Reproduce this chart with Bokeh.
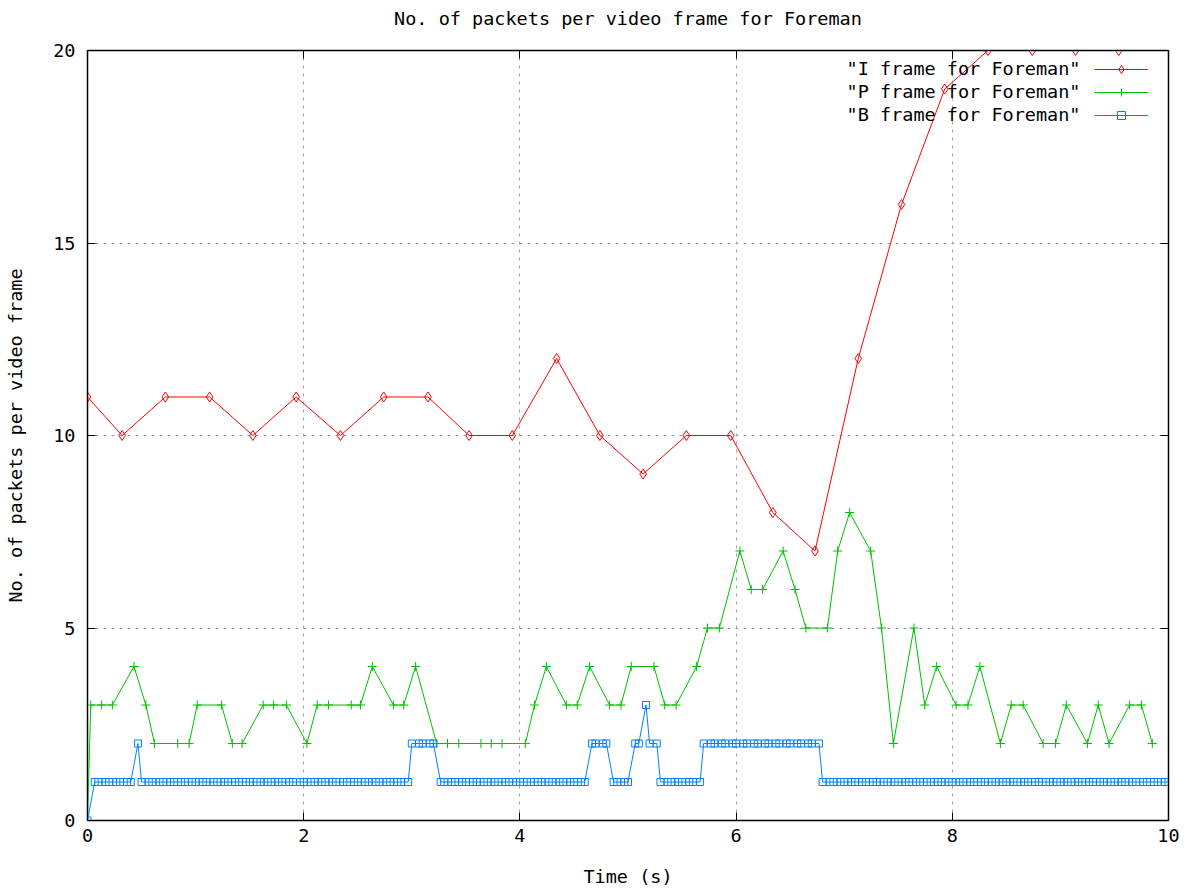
from bokeh.plotting import figure
from bokeh.models import Range1d, FixedTicker, LinearAxis, Legend, LegendItem, Label
from bokeh.embed import file_html
from bokeh.resources import INLINE

# ---------------- data ----------------
i_time = [0.0, 0.32, 0.72, 1.13, 1.53, 1.93, 2.34, 2.74, 3.15, 3.53, 3.93, 4.34,
          4.74, 5.14, 5.54, 5.95, 6.34, 6.73, 7.13, 7.53, 7.93, 8.33, 8.74, 9.14, 9.54]
i_val = [11, 10, 11, 11, 10, 11, 10, 11, 11, 10, 10, 12,
         10, 9, 10, 10, 8, 7, 12, 16, 19, 20, 20, 20, 20]

p_time = [0.0, 0.03, 0.13, 0.23, 0.43, 0.54, 0.62, 0.835, 0.94, 1.015, 1.24, 1.34,
          1.43, 1.625, 1.72, 1.84, 2.03, 2.125, 2.23, 2.44, 2.525, 2.635, 2.83, 2.925,
          3.035, 3.23, 3.33, 3.435, 3.64, 3.735, 3.835, 4.05, 4.135, 4.245, 4.43, 4.53,
          4.645, 4.83, 4.935, 5.03, 5.24, 5.34, 5.445, 5.635, 5.735, 5.845, 6.035, 6.14,
          6.245, 6.435, 6.545, 6.645, 6.845, 6.94, 7.05, 7.245, 7.345, 7.455, 7.645, 7.745,
          7.855, 8.035, 8.145, 8.255, 8.445, 8.545, 8.655, 8.84, 8.955, 9.055, 9.25, 9.35,
          9.45, 9.64, 9.75, 9.85]
p_val = [0, 3, 3, 3, 4, 3, 2, 2, 2, 3, 3, 2,
         2, 3, 3, 3, 2, 3, 3, 3, 3, 4, 3, 3,
         4, 2, 2, 2, 2, 2, 2, 2, 3, 4, 3, 3,
         4, 3, 3, 4, 4, 3, 3, 4, 5, 5, 7, 6,
         6, 7, 6, 5, 5, 7, 8, 7, 5, 2, 5, 3,
         4, 3, 3, 4, 2, 3, 3, 2, 2, 3, 2, 3,
         2, 3, 3, 2]

# B frames: one value per B-frame slot of the 30 fps timeline (frames not used by I/P)
b_frame = [k for k in range(301) if k % 3 != 1]
b_time = [k / 30.0 for k in b_frame]
b_val = [
    0,
    1, 1, 1, 1, 1, 1, 1, 1,
    2,
    1, 1, 1, 1, 1, 1, 1, 1, 1, 1,
    1, 1, 1, 1, 1, 1, 1, 1, 1, 1,
    1, 1, 1, 1, 1, 1, 1, 1, 1, 1,
    1, 1, 1, 1, 1, 1, 1, 1, 1, 1,
    1, 1, 1, 1, 1, 1, 1, 1, 1, 1,
    2, 2, 2, 2, 2,
    1, 1, 1, 1, 1, 1, 1, 1, 1, 1,
    1, 1, 1, 1, 1, 1, 1, 1, 1, 1,
    1, 1, 1, 1, 1, 1, 1, 1,
    2, 2, 2, 2,
    1, 1, 1, 1,
    2, 2,
    3,
    2, 2,
    1, 1, 1, 1, 1, 1, 1, 1,
    2, 2, 2, 2, 2, 2, 2, 2, 2, 2,
    2, 2, 2, 2, 2, 2, 2, 2, 2, 2,
    2, 2,
    1, 1, 1, 1, 1, 1, 1, 1, 1, 1,
    1, 1, 1, 1, 1, 1, 1, 1, 1, 1,
    1, 1, 1, 1, 1, 1, 1, 1, 1, 1,
    1, 1, 1, 1, 1, 1, 1, 1, 1, 1,
    1, 1, 1, 1, 1, 1, 1, 1, 1, 1,
    1, 1, 1, 1, 1, 1, 1, 1, 1, 1,
    1, 1, 1, 1, 1,
]
n = min(len(b_time), len(b_val))
b_time = b_time[:n]
b_val = b_val[:n]

x_ticks = [0, 2, 4, 6, 8, 10]
y_ticks = [0, 5, 10, 15, 20]

series_names = ['"I frame for Foreman"', '"P frame for Foreman"', '"B frame for Foreman"']
title_text = "No. of packets per video frame for Foreman"
x_label = "Time (s)"
y_label = "No. of packets per video frame"

RED = "#ff0000"
GREEN = "#00c000"
BLUE = "#0080ff"
FONT = "DejaVu Sans Mono"
FS = "18.5px"

# ---------------- figure ----------------
p = figure(width=1197, height=892, x_range=Range1d(0, 10), y_range=Range1d(0, 20),
           output_backend="svg", toolbar_location=None,
           min_border_left=87, min_border_right=29, min_border_top=50, min_border_bottom=72)

p.title.visible = False

p.outline_line_color = "black"
p.outline_line_width = 1.5
p.background_fill_color = "white"
p.border_fill_color = "white"

for ax in (p.xaxis[0], p.yaxis[0]):
    ax.major_tick_in = 8
    ax.major_tick_out = 0
    ax.minor_tick_in = 0
    ax.minor_tick_out = 0
    ax.axis_line_color = "black"
    ax.major_tick_line_color = "black"
    ax.major_label_text_font = FONT
    ax.major_label_text_font_size = FS
    ax.major_label_text_color = "black"
    ax.axis_label_text_font = FONT
    ax.axis_label_text_font_size = FS
    ax.axis_label_text_font_style = "normal"
    ax.axis_label_text_color = "black"

p.xaxis[0].ticker = FixedTicker(ticks=x_ticks)
p.yaxis[0].ticker = FixedTicker(ticks=y_ticks)
p.xaxis[0].axis_label = x_label
p.yaxis[0].axis_label = y_label
p.xaxis[0].major_label_standoff = 8
p.xaxis[0].axis_label_standoff = 21
p.yaxis[0].major_label_standoff = 12
p.yaxis[0].axis_label_standoff = 24

# mirrored ticks on top (its axis label carries the chart title) and right
top = LinearAxis(ticker=FixedTicker(ticks=x_ticks), major_tick_in=8, major_tick_out=0,
                 minor_tick_in=0, minor_tick_out=0, major_label_text_font_size="2px",
                 major_label_text_color=None, major_label_standoff=0,
                 axis_line_color="black",
                 axis_label=title_text, axis_label_standoff=22,
                 axis_label_text_font=FONT, axis_label_text_font_size=FS,
                 axis_label_text_font_style="normal", axis_label_text_color="black")
right = LinearAxis(ticker=FixedTicker(ticks=y_ticks), major_tick_in=8, major_tick_out=0,
                   minor_tick_in=0, minor_tick_out=0, major_label_text_font_size="2px",
                   major_label_text_color=None, major_label_standoff=0,
                   axis_line_color="black")
p.add_layout(top, "above")
p.add_layout(right, "right")

p.xgrid.ticker = FixedTicker(ticks=x_ticks)
p.ygrid.ticker = FixedTicker(ticks=y_ticks)
for g in (p.xgrid[0], p.ygrid[0]):
    g.grid_line_color = "#a0a0a0"
    g.grid_line_dash = "3 5"
    g.grid_line_width = 1

# ---------------- series ----------------
li = p.line(i_time, i_val, line_color=RED, line_width=1)
si = p.scatter(i_time, i_val, marker="diamond", size=10, line_color=RED, fill_color=None, line_width=1)
lp = p.line(p_time, p_val, line_color=GREEN, line_width=1)
sp = p.scatter(p_time, p_val, marker="cross", size=9, line_color=GREEN, line_width=1)
lb = p.line(b_time, b_val, line_color=BLUE, line_width=1)
sb = p.scatter(b_time, b_val, marker="square", size=7, line_color=BLUE, fill_color=None, line_width=1)

# legend samples (gnuplot style: text on the left, sample on the right)
legend = Legend(items=[LegendItem(label=" ", renderers=[li, si]),
                       LegendItem(label=" ", renderers=[lp, sp]),
                       LegendItem(label=" ", renderers=[lb, sb])],
                location=(1007, 695), glyph_width=54, glyph_height=20, spacing=3,
                padding=0, margin=0, label_standoff=0, label_width=0,
                label_text_font_size="2px", label_text_color=None,
                border_line_color=None, background_fill_alpha=0)
p.add_layout(legend, "center")

for idx, name in enumerate(series_names):
    p.add_layout(Label(x=993, y=752 - 23 * idx, x_units="screen", y_units="screen",
                       text=name, text_align="right", text_baseline="middle",
                       text_font=FONT, text_font_size=FS, text_color="black"))

open("out.html", "w").write(file_html(p, INLINE))
